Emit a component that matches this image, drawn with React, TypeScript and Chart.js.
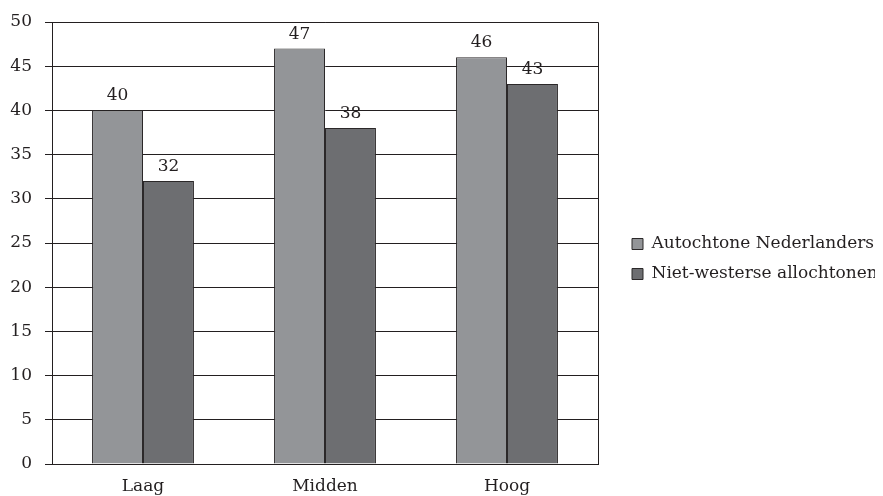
import React, { useEffect, useRef } from "react";
import { Chart, registerables } from "chart.js";

Chart.register(...registerables);

const categories = ["Laag", "Midden", "Hoog"];
const seriesNames = ["Autochtone Nederlanders", "Niet-westerse allochtonen"];
const autochtoon = [40, 47, 46];
const nietWesters = [32, 38, 43];
const yTicks = [0, 5, 10, 15, 20, 25, 30, 35, 40, 45, 50];

const FONT = "'DejaVu Serif', serif";
const INK = "#231f20";

const valueLabels = {
  id: "valueLabels",
  afterDatasetsDraw(chart: any) {
    const ctx = chart.ctx;
    ctx.save();
    ctx.font = `17px ${FONT}`;
    ctx.fillStyle = INK;
    ctx.textAlign = "center";
    ctx.textBaseline = "alphabetic";
    chart.data.datasets.forEach((ds: any, i: number) => {
      const meta = chart.getDatasetMeta(i);
      meta.data.forEach((bar: any, j: number) => {
        ctx.fillText(String(ds.data[j]), bar.x, bar.y - 10);
      });
    });
    ctx.restore();
  },
};

const frame = {
  id: "frame",
  afterDraw(chart: any) {
    const { left, right, top, bottom } = chart.chartArea;
    const ctx = chart.ctx;
    ctx.save();
    ctx.strokeStyle = INK;
    ctx.lineWidth = 1;
    ctx.beginPath();
    ctx.moveTo(Math.round(left) + 0.5, Math.round(bottom) + 0.5);
    ctx.lineTo(Math.round(left) + 0.5, Math.round(top) + 0.5);
    ctx.lineTo(Math.round(right) + 0.5, Math.round(top) + 0.5);
    ctx.lineTo(Math.round(right) + 0.5, Math.round(bottom) + 0.5);
    ctx.lineTo(Math.round(left) + 0.5, Math.round(bottom) + 0.5);
    ctx.stroke();
    ctx.restore();
  },
};

const zeroPad = (s: any) => {
  s.paddingTop = 0;
  s.paddingBottom = 0;
};

export default function App() {
  const ref = useRef<HTMLCanvasElement>(null);
  useEffect(() => {
    if (!ref.current) return;
    const chart = new Chart(ref.current, {
      type: "bar",
      data: {
        labels: categories,
        datasets: [
          {
            label: seriesNames[0],
            data: autochtoon,
            backgroundColor: "#939598",
            borderColor: "#2b2829",
            borderWidth: 1,
            categoryPercentage: 0.56,
            barPercentage: 1,
          },
          {
            label: seriesNames[1],
            data: nietWesters,
            backgroundColor: "#6d6e71",
            borderColor: "#2b2829",
            borderWidth: 1,
            categoryPercentage: 0.56,
            barPercentage: 1,
          },
        ],
      },
      options: {
        animation: false,
        responsive: true,
        maintainAspectRatio: false,
        layout: { padding: { top: 14, right: 0, left: 0, bottom: 0 } },
        plugins: {
          legend: {
            position: "right",
            maxWidth: 264,
            labels: {
              boxWidth: 11,
              boxHeight: 11,
              padding: 13,
              color: INK,
              font: { family: FONT, size: 17 },
            },
          },
          tooltip: { enabled: false },
        },
        scales: {
          x: {
            grid: { display: false, drawTicks: false },
            border: { display: true, color: INK },
            ticks: { color: INK, font: { family: FONT, size: 17 }, padding: 12 },
            afterFit: (s: any) => {
              s.height = 32;
              s.paddingLeft = 0;
              s.paddingRight = 0;
            },
          },
          y: {
            min: 0,
            max: 50,
            afterBuildTicks: (s: any) => {
              s.ticks = yTicks.map((v) => ({ value: v }));
            },
            grid: { color: INK, lineWidth: 1, tickLength: 7 },
            border: { display: true, color: INK },
            ticks: { color: INK, font: { family: FONT, size: 17 }, padding: 13 },
            afterFit: (s: any) => {
              s.width = 44;
              zeroPad(s);
            },
          },
          gap: {
            type: "linear",
            position: "right",
            display: true,
            grid: { display: false, drawTicks: false },
            border: { display: false },
            ticks: { display: false },
            afterFit: (s: any) => {
              s.width = 21;
              zeroPad(s);
            },
          },
        },
      },
      plugins: [valueLabels, frame],
    });
    return () => chart.destroy();
  }, []);
  return (
    <div style={{ width: 875, height: 488, position: "relative" }}>
      <canvas ref={ref} />
    </div>
  );
}
